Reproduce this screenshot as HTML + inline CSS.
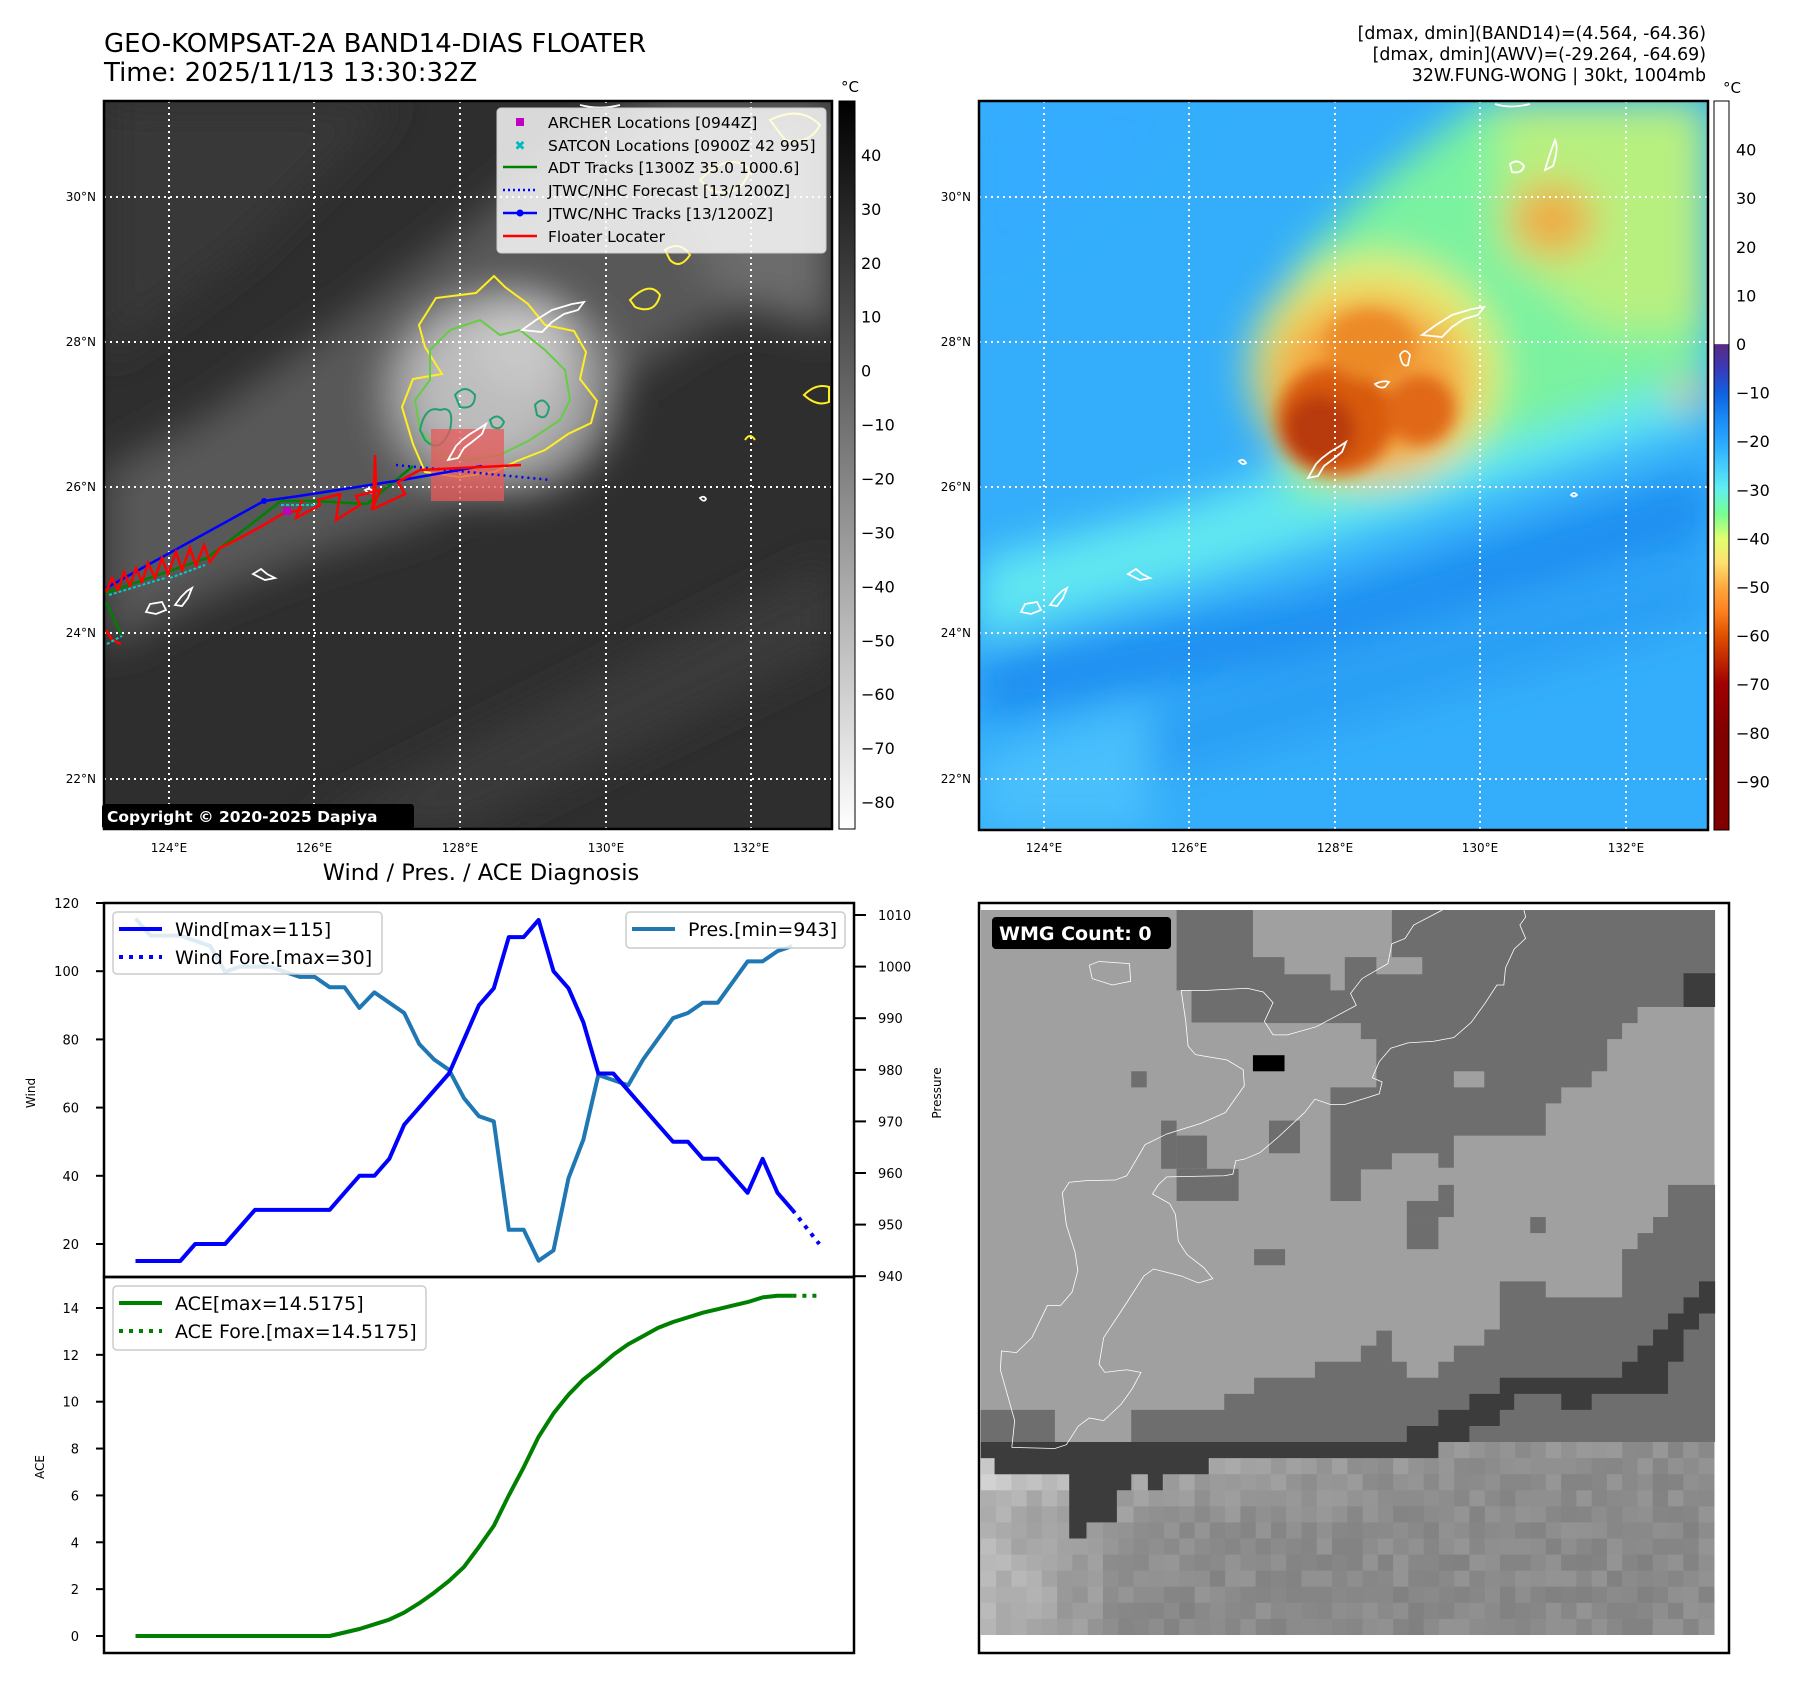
<!DOCTYPE html>
<html><head><meta charset="utf-8"><title>Dapiya floater</title>
<style>
html,body{margin:0;padding:0;background:#fff;}
svg{display:block;font-family:"DejaVu Sans","Liberation Sans",sans-serif;}
</style></head>
<body>
<svg id="fig" width="1797" height="1690" viewBox="0 0 1797 1690" xmlns="http://www.w3.org/2000/svg">
<defs>
  <filter id="blur20" x="-20%" y="-20%" width="140%" height="140%"><feGaussianBlur stdDeviation="20"/></filter>
  <filter id="blur8" x="-20%" y="-20%" width="140%" height="140%"><feGaussianBlur stdDeviation="8"/></filter>
  <clipPath id="clipL"><rect x="104" y="101" width="728" height="728"/></clipPath>
  <clipPath id="clipR"><rect x="979" y="101" width="729" height="729"/></clipPath>
  <linearGradient id="cbGray" x1="0" y1="0" x2="0" y2="1">
    <stop offset="0" stop-color="#000"/><stop offset="1" stop-color="#fff"/>
  </linearGradient>
  <linearGradient id="cbColor" x1="0" y1="0" x2="0" y2="1">
    <stop offset="0" stop-color="#fff"/><stop offset="0.333" stop-color="#fff"/>
    <stop offset="0.334" stop-color="#5a2a82"/><stop offset="0.367" stop-color="#3a3ab8"/>
    <stop offset="0.4" stop-color="#1060e0"/><stop offset="0.433" stop-color="#1888f4"/>
    <stop offset="0.467" stop-color="#28a8ff"/><stop offset="0.5" stop-color="#44ccff"/>
    <stop offset="0.533" stop-color="#60f0f0"/><stop offset="0.567" stop-color="#78ff90"/>
    <stop offset="0.6" stop-color="#e0ff70"/><stop offset="0.633" stop-color="#ffe070"/>
    <stop offset="0.667" stop-color="#ffa840"/><stop offset="0.7" stop-color="#ff8020"/>
    <stop offset="0.733" stop-color="#e05000"/><stop offset="0.767" stop-color="#c02800"/>
    <stop offset="0.8" stop-color="#a00000"/><stop offset="0.867" stop-color="#800000"/>
    <stop offset="1" stop-color="#800000"/>
  </linearGradient>
</defs>

<!-- Titles -->
<text x="104" y="52" font-size="26" fill="#000">GEO-KOMPSAT-2A BAND14-DIAS FLOATER</text>
<text x="104" y="81" font-size="26" fill="#000">Time: 2025/11/13 13:30:32Z</text>
<g font-size="17.4" text-anchor="end" fill="#000">
  <text x="1706" y="39">[dmax, dmin](BAND14)=(4.564, -64.36)</text>
  <text x="1706" y="60">[dmax, dmin](AWV)=(-29.264, -64.69)</text>
  <text x="1706" y="81">32W.FUNG-WONG | 30kt, 1004mb</text>
</g>

<!-- ===== Left IR map ===== -->
<g clip-path="url(#clipL)">
  <rect x="104" y="101" width="728" height="728" fill="#2e2e2e"/>
  <g filter="url(#blur20)">
    <polygon points="104,470 200,420 330,330 450,240 560,150 640,101 832,101 832,260 700,330 560,420 430,520 300,560 200,600 104,650" fill="#585858"/>
    <polygon points="104,101 400,101 250,250 104,360" fill="#383838"/>
    <polygon points="640,101 832,101 832,330 720,300" fill="#6c6c6c"/>
    <polygon points="300,829 832,560 832,650 460,829" fill="#3a3a3a"/>
    <ellipse cx="500" cy="395" rx="115" ry="100" fill="#9a9a9a"/>
    <ellipse cx="490" cy="385" rx="80" ry="75" fill="#bcbcbc"/>
    <ellipse cx="520" cy="345" rx="50" ry="45" fill="#c8c8c8"/>
  </g>
  <!-- grid -->
  <g stroke="#fff" stroke-width="2" stroke-dasharray="2,4">
    <line x1="169" y1="101" x2="169" y2="829"/><line x1="314" y1="101" x2="314" y2="829"/>
    <line x1="460" y1="101" x2="460" y2="829"/><line x1="606" y1="101" x2="606" y2="829"/>
    <line x1="751" y1="101" x2="751" y2="829"/>
    <line x1="104" y1="197" x2="832" y2="197"/><line x1="104" y1="342" x2="832" y2="342"/>
    <line x1="104" y1="487" x2="832" y2="487"/><line x1="104" y1="633" x2="832" y2="633"/>
    <line x1="104" y1="779" x2="832" y2="779"/>
  </g>
  <!-- contours -->
  <polygon points="419,325 436,298 476,293 494,276 505,287 528,304 545,325 574,331 586,352 580,379 597,401 591,423 568,434 545,450 517,461 494,472 459,477 425,472 413,444 402,407 413,379 442,374 425,347" fill="none" stroke="#ffee22" stroke-width="2"/>
  <polygon points="430,350 450,330 480,320 500,335 520,330 545,350 565,370 570,400 560,420 530,440 500,455 470,460 440,455 420,430 415,400 430,380" fill="none" stroke="#66cc44" stroke-width="2"/>
  <g fill="none" stroke="#22a070" stroke-width="2">
    <path d="M420,430 q5,-25 20,-20 q15,-5 10,20 q-10,25 -25,10 z"/>
    <path d="M455,395 q10,-12 20,0 q0,15 -15,12 z"/>
    <path d="M535,405 q8,-10 14,2 q-2,15 -12,8 z"/>
    <path d="M490,420 q8,-8 14,2 q-4,10 -12,4 z"/>
  </g>
  <g fill="none" stroke="#ffee22" stroke-width="2">
    <path d="M630,300 q20,-20 30,-5 q-5,20 -25,12 z"/>
    <path d="M665,250 q15,-10 25,5 q-10,15 -20,5 z"/>
    <path d="M700,180 q30,-30 50,-10 q-10,30 -40,20 z"/>
    <path d="M770,120 q30,-15 50,5 q-10,20 -35,15 z"/>
    <path d="M804,395 q12,-12 25,-8 l0,15 q-12,5 -25,-7 z"/>
    <path d="M745,440 q5,-8 10,0"/>
  </g>
  <!-- floater box -->
  <rect x="431" y="429" width="73" height="72" fill="rgb(232,90,90)" fill-opacity="0.75"/>
  <!-- coastlines -->
  <g fill="none" stroke="#fff" stroke-width="1.8">
    <path d="M448,460 l8,-14 l6,-6 l8,-6 l10,-6 l6,-4 l-4,10 l-10,8 l-8,6 l-6,10 z"/>
    <path d="M522,330 l14,-10 l16,-10 l20,-6 l12,-2 l-6,8 l-14,4 l-12,8 l-10,10 z"/>
    <path d="M253,574 l8,-5 l6,5 l8,4 l-10,2 z"/>
    <path d="M146,612 l4,-8 l12,-2 l4,8 l-10,4 z"/>
    <path d="M175,605 l6,-8 l6,-6 l5,-3 l-4,10 l-6,8 z"/>
    <path d="M700,498 q4,-3 6,1 q-2,4 -6,-1z"/>
    <path d="M365,490 q5,-3 8,2 q-3,3 -8,-2z"/>
    <path d="M580,105 q20,5 40,0"/>
  </g>
  <!-- tracks -->
  <polyline points="106,593 207,558 281,501 316,501 367,504 413,466" fill="none" stroke="#008000" stroke-width="2.5"/>
  <polyline points="106,602 121,634" fill="none" stroke="#008000" stroke-width="2.5"/>
  <polyline points="106,588 264,501 299,496 402,480 482,466" fill="none" stroke="#0000ff" stroke-width="2.5"/>
  <circle cx="264" cy="501" r="3" fill="#0000ff"/>
  <polyline points="396,465 551,480" fill="none" stroke="#0000ff" stroke-width="2.5" stroke-dasharray="2,4"/>
  <polyline points="106,592 112,578 118,590 124,572 130,586 136,568 142,582 148,563 155,578 162,558 168,574 176,552 182,570 190,548 196,566 204,545 210,562 220,548 240,538 262,526 282,514 300,510 302,500 296,518 320,505 318,500 340,494 336,520 360,505 356,496 380,490 372,510 376,482 375,455 373,509 405,494 398,482 420,470 521,465" fill="none" stroke="#ff0000" stroke-width="2.5"/>
  <polyline points="106,630 112,640 121,644" fill="none" stroke="#ff0000" stroke-width="2.5"/>
  <g stroke="#00cccc" stroke-width="2" stroke-dasharray="3,2">
    <line x1="109" y1="595" x2="165" y2="578"/>
    <line x1="170" y1="578" x2="205" y2="565"/>
    <line x1="281" y1="505" x2="316" y2="505"/>
    <line x1="107" y1="644" x2="122" y2="636"/>
  </g>
  <rect x="283" y="507" width="8" height="8" fill="#c000c0"/>
  <!-- legend -->
  <g>
    <rect x="497" y="108" width="329" height="145" rx="4" fill="#fff" fill-opacity="0.82" stroke="#ccc"/>
    <rect x="516" y="118" width="8" height="8" fill="#c000c0"/>
    <text x="520" y="150" font-size="13" font-weight="bold" fill="#00bbbb" text-anchor="middle">✖</text>
    <line x1="503" y1="167" x2="537" y2="167" stroke="#008000" stroke-width="2.5"/>
    <line x1="503" y1="190" x2="537" y2="190" stroke="#0000ff" stroke-width="2.5" stroke-dasharray="2,3"/>
    <line x1="503" y1="213" x2="537" y2="213" stroke="#0000ff" stroke-width="2.5"/><circle cx="520" cy="213" r="3.5" fill="#0000ff"/>
    <line x1="503" y1="236" x2="537" y2="236" stroke="#ff0000" stroke-width="2.5"/>
    <g font-size="15.5" fill="#000">
      <text x="548" y="128">ARCHER Locations [0944Z]</text>
      <text x="548" y="151">SATCON Locations [0900Z 42 995]</text>
      <text x="548" y="173">ADT Tracks [1300Z 35.0 1000.6]</text>
      <text x="548" y="196">JTWC/NHC Forecast [13/1200Z]</text>
      <text x="548" y="219">JTWC/NHC Tracks [13/1200Z]</text>
      <text x="548" y="242">Floater Locater</text>
    </g>
  </g>
</g>
<rect x="104" y="101" width="728" height="728" fill="none" stroke="#000" stroke-width="2.5"/>
<g>
  <rect x="102" y="804" width="312" height="25" rx="3" fill="#000"/>
  <text x="107" y="822" font-size="15.5" font-weight="bold" fill="#fff">Copyright © 2020-2025 Dapiya</text>
</g>
<g font-size="12" fill="#000" text-anchor="end">
  <text x="96" y="201">30°N</text><text x="96" y="346">28°N</text><text x="96" y="491">26°N</text><text x="96" y="637">24°N</text><text x="96" y="783">22°N</text>
</g>
<g font-size="12" fill="#000" text-anchor="middle">
  <text x="169" y="852">124°E</text><text x="314" y="852">126°E</text><text x="460" y="852">128°E</text><text x="606" y="852">130°E</text><text x="751" y="852">132°E</text>
</g>
<!-- left colorbar -->
<rect x="839" y="101" width="16" height="728" fill="url(#cbGray)" stroke="#000" stroke-width="1"/>
<text x="850" y="92" font-size="15" text-anchor="middle">°C</text>
<g id="cbL" font-size="16" fill="#000"></g>

<!-- ===== Right AWV map ===== -->
<g clip-path="url(#clipR)">
  <rect x="979" y="101" width="729" height="729" fill="#34aefa"/>
  <g filter="url(#blur20)">
    <polygon points="979,660 1300,600 1708,470 1708,540 1300,660 979,720" fill="#1f8ef0"/>
    <polygon points="979,760 1708,560 1708,620 979,830" fill="#2c9ff4"/>
    <polygon points="979,760 1150,700 1150,830 979,830" fill="#48bffc"/>
    <polygon points="979,560 1200,500 1400,420 1708,280 1708,420 1400,520 1200,580 979,640" fill="#60e6f2"/>
    <polygon points="979,101 1200,101 1100,200 979,280" fill="#36acff"/>
    <polygon points="1290,505 1400,480 1708,370 1708,101 1480,101 1380,180 1300,260 1270,340" fill="#7af2a0"/>
    <polygon points="1500,101 1708,101 1708,330 1600,330 1500,250" fill="#b8f080"/>
    <ellipse cx="1375" cy="370" rx="125" ry="115" fill="#e8ec70"/>
    <ellipse cx="1370" cy="385" rx="100" ry="90" fill="#f4a440"/>
    <ellipse cx="1552" cy="220" rx="42" ry="36" fill="#f0a840"/>
    <ellipse cx="1690" cy="395" rx="20" ry="12" fill="#f0a840"/>
  </g>
  <g filter="url(#blur8)">
    <ellipse cx="1335" cy="420" rx="58" ry="55" fill="#d85a10"/>
    <ellipse cx="1320" cy="430" rx="35" ry="35" fill="#b83a08"/>
    <ellipse cx="1420" cy="410" rx="35" ry="35" fill="#e06818"/>
    <ellipse cx="1370" cy="345" rx="45" ry="35" fill="#ec8a28"/>
  </g>
  <g stroke="#fff" stroke-width="2" stroke-dasharray="2,4">
    <line x1="1044" y1="101" x2="1044" y2="830"/><line x1="1189" y1="101" x2="1189" y2="830"/>
    <line x1="1335" y1="101" x2="1335" y2="830"/><line x1="1480" y1="101" x2="1480" y2="830"/>
    <line x1="1626" y1="101" x2="1626" y2="830"/>
    <line x1="979" y1="197" x2="1708" y2="197"/><line x1="979" y1="342" x2="1708" y2="342"/>
    <line x1="979" y1="487" x2="1708" y2="487"/><line x1="979" y1="633" x2="1708" y2="633"/>
    <line x1="979" y1="779" x2="1708" y2="779"/>
  </g>
  <g fill="none" stroke="#fff" stroke-width="1.8">
    <path d="M1308,478 l8,-14 l6,-6 l8,-6 l10,-6 l6,-4 l-4,10 l-10,8 l-8,6 l-6,10 z"/>
    <path d="M1422,335 l14,-10 l16,-10 l20,-6 l12,-2 l-6,8 l-14,4 l-12,8 l-10,10 z"/>
    <path d="M1128,574 l8,-5 l6,5 l8,4 l-10,2 z"/>
    <path d="M1021,612 l4,-8 l12,-2 l4,8 l-10,4 z"/>
    <path d="M1050,605 l6,-8 l6,-6 l5,-3 l-4,10 l-6,8 z"/>
    <path d="M1400,355 q5,-8 10,0 l-2,10 q-6,3 -8,-10z"/>
    <path d="M1375,384 q8,-4 14,-2 l-4,5 q-6,2 -10,-3z"/>
    <path d="M1510,164 q8,-6 14,2 q-2,8 -12,6z"/>
    <path d="M1545,170 q4,-14 10,-30 q4,8 -2,26z"/>
    <path d="M1495,104 q15,5 35,0"/>
    <path d="M1571,495 q3,-4 6,0 q-3,3 -6,0z"/>
    <path d="M1239,461 q4,-3 7,2 q-3,3 -7,-2z"/>
  </g>
</g>
<rect x="979" y="101" width="729" height="729" fill="none" stroke="#000" stroke-width="2.5"/>
<g font-size="12" fill="#000" text-anchor="end">
  <text x="971" y="201">30°N</text><text x="971" y="346">28°N</text><text x="971" y="491">26°N</text><text x="971" y="637">24°N</text><text x="971" y="783">22°N</text>
</g>
<g font-size="12" fill="#000" text-anchor="middle">
  <text x="1044" y="852">124°E</text><text x="1189" y="852">126°E</text><text x="1335" y="852">128°E</text><text x="1480" y="852">130°E</text><text x="1626" y="852">132°E</text>
</g>
<rect x="1714" y="101" width="15" height="729" fill="url(#cbColor)" stroke="#000" stroke-width="1"/>
<text x="1732" y="93" font-size="15" text-anchor="middle">°C</text>
<g id="cbR" font-size="16" fill="#000"></g>

<!-- ===== Bottom-left chart ===== -->
<text x="481" y="880" font-size="22.5" text-anchor="middle">Wind / Pres. / ACE Diagnosis</text>
<g id="chart"></g>

<!-- ===== Bottom-right WMG panel ===== -->
<g>
  <g transform="translate(897,850) scale(0.5741,0.5358)">
    <rect x="146" y="112" width="1278" height="1353" fill="#a0a0a0"/>
    <g id="wmgTex"></g>
    <polygon fill="#6e6e6e" points="487,112 620,112 620,200 675,200 675,232 755,232 755,262 780,262 780,200 862,200 862,112 1425,112 1425,235 1370,235 1370,293 1290,293 1290,323 1263,323 1263,353 1237,353 1237,413 1210,413 1210,443 1157,443 1157,473 1130,473 1130,533 970,533 970,593 943,593 943,566 862,566 862,596 808,596 808,655 755,655 755,443 835,443 835,353 808,353 808,323 640,323 640,322 513,322 513,262 487,262"/>
    <rect x="835" y="200" width="80" height="32" fill="#a0a0a0"/>
    <rect x="970" y="413" width="53" height="30" fill="#a0a0a0"/>
    <polygon fill="#6e6e6e" points="1425,625 1343,625 1343,685 1317,685 1317,715 1290,715 1290,745 1263,745 1263,835 1130,835 1130,805 1050,805 1050,895 1023,895 1023,925 970,925 970,955 943,955 943,985 888,985 888,955 862,955 862,897 835,897 835,925 808,925 808,955 728,955 728,985 622,985 622,1015 570,1015 570,1045 408,1045 408,1105 275,1105 275,1045 146,1045 146,1105 1425,1105"/>
    <polygon fill="#3c3c3c" points="1425,805 1397,805 1397,835 1370,835 1370,865 1343,865 1343,895 1317,895 1317,925 1290,925 1290,955 1263,955 1263,985 1050,985 1050,1015 997,1015 997,1045 943,1045 943,1075 888,1075 888,1105 146,1105 146,1135 170,1135 170,1165 300,1165 300,1285 330,1285 330,1255 383,1255 383,1195 408,1195 408,1165 437,1165 437,1195 463,1195 463,1165 543,1165 543,1135 943,1135 943,1105 997,1105 997,1075 1050,1075 1050,1045 1075,1045 1075,1015 1157,1015 1157,1045 1210,1045 1210,1015 1343,1015 1343,955 1370,955 1370,895 1397,895 1397,865 1425,865"/>
    <rect x="1370" y="230" width="55" height="63" fill="#3c3c3c"/>
    <g fill="#6e6e6e">
      <rect x="408" y="413" width="27" height="30"/><rect x="460" y="505" width="27" height="90"/>
      <rect x="487" y="533" width="53" height="62"/><rect x="487" y="595" width="108" height="60"/>
      <rect x="648" y="505" width="54" height="61"/><rect x="622" y="745" width="54" height="30"/>
      <rect x="1103" y="685" width="27" height="30"/><rect x="888" y="655" width="82" height="30"/>
      <rect x="888" y="685" width="55" height="60"/><rect x="943" y="625" width="27" height="30"/>
    </g>
    <rect x="620" y="383" width="55" height="30" fill="#000"/>
    <g fill="none" stroke="#fff" stroke-width="1.4" vector-effect="non-scaling-stroke">
      <polyline points="200,1115 205,1065 180,970 182,935 208,938 235,910 262,850 285,850 305,825 315,785 310,750 295,700 288,640 300,620 330,617 380,616 400,608 408,594 432,550 470,530 530,510 572,490 605,440 603,410 575,392 520,382 507,366 503,320 495,262 540,262 610,258 638,265 655,285 640,320 655,345 680,345 730,330 800,290 790,268 810,240 855,212 862,175 885,165 900,140 950,112"/>
      <polyline points="1092,112 1095,125 1085,140 1095,165 1075,185 1060,220 1057,252 1045,252 1025,285 1000,322 970,350 935,357 890,360 860,370 840,395 828,425 845,433 840,455 820,462 780,475 755,475 728,465 710,490 665,535 632,565 605,577 590,580 585,605 570,608 470,610 455,625 445,642 475,660 485,680 490,730 505,755 535,780 550,800 525,808 495,795 447,782 430,795 400,845 360,910 352,960 362,975 400,970 425,975 410,1005 390,1035 360,1065 335,1060 316,1075 295,1110 275,1117 200,1115"/>
      <polygon points="335,215 352,208 405,212 407,245 375,252 340,240"/>
    </g>
  </g>
  <rect x="979" y="903" width="750" height="750" fill="none" stroke="#000" stroke-width="2.5"/>
  <rect x="992" y="917" width="179" height="32" rx="4" fill="#000"/>
  <text x="999" y="940" font-size="19" font-weight="bold" fill="#fff">WMG Count: 0</text>
</g>
</svg>

<script>
// ---- Chart data ----
const obsIndex = [0,1,2,3,4,5,6,7,8,9,10,11,12,13,14,15,16,17,18,19,20,21,22,23,24,25,26,27,28,29,30,31,32,33,34,35,36,37,38,39,40,41,42,43,44];
const windValues = [15,15,15,15,20,20,20,25,30,30,30,30,30,30,35,40,40,45,55,60,65,70,80,90,95,110,110,115,100,95,85,70,70,65,60,55,50,50,45,45,40,35,45,35,30];
const presValues = [1009.3,1006,1006,1006,1005,1004,999,1000,1000,1000,999,998,998,996,996,992,995,993,991,985,982,980,974.5,971,970,949,949,943,945,959,966.5,979,978,977,982,986,990,991,993,993,997,1001,1001,1003,1004];
const aceValues = [0,0,0,0,0,0,0,0,0,0,0,0,0,0,0.15,0.3,0.5,0.7,1.0,1.4,1.85,2.35,2.95,3.8,4.7,6.0,7.2,8.5,9.5,10.3,10.95,11.45,12.0,12.45,12.8,13.15,13.4,13.6,13.8,13.95,14.1,14.25,14.45,14.52,14.52];
const foreIndex = [44,45.8];
const windForeValues = [30,20];
const aceForeValues = [14.52,14.52];
const windTicks = [20,40,60,80,100,120];
const presTicks = [940,950,960,970,980,990,1000,1010];
const aceTicks = [0,2,4,6,8,10,12,14];
const irCbTicks = [40,30,20,10,0,-10,-20,-30,-40,-50,-60,-70,-80];
const awvCbTicks = [40,30,20,10,0,-10,-20,-30,-40,-50,-60,-70,-80,-90];

const NS = "http://www.w3.org/2000/svg";
function mk(tag, attrs, parent){
  const e = document.createElementNS(NS, tag);
  for (const k in attrs) e.setAttribute(k, attrs[k]);
  parent.appendChild(e);
  return e;
}
function fmt(v){ return v < 0 ? "\u2212" + Math.abs(v) : String(v); }

// layout
const TOP = 903, MID = 1277, BOT = 1653;
// axes functions
const xPos = i => 135.5 + i * 14.93;
const yWind = v => 903 + (120 - v) * 3.41;
const yPres = p => 915 + (1010 - p) * 5.16;
const yAce = a => 1636 - a * 23.43;
const yIrCb = v => 101 + (50 - v) * 5.393;
const yAwvCb = v => 101 + (50 - v) * 4.86;

// colorbar labels
const cbL = document.getElementById("cbL");
irCbTicks.forEach(v => {
  const t = mk("text", {x: 861, y: yIrCb(v) + 6}, cbL);
  t.textContent = fmt(v);
  
  
});
const cbR = document.getElementById("cbR");
awvCbTicks.forEach(v => {
  const t = mk("text", {x: 1736, y: yAwvCb(v) + 6}, cbR);
  t.textContent = fmt(v);
  
  
});

// chart
const ch = document.getElementById("chart");
function pts(xs, ys, fy){ return xs.map((x,i)=> xPos(x).toFixed(1)+","+fy(ys[i]).toFixed(1)).join(" "); }

const clipDefs = document.querySelector("defs");
const cp = mk("clipPath", {id: "clipTop"}, clipDefs);
mk("rect", {x:104, y:TOP, width:750, height:MID-TOP}, cp);
const cp2 = mk("clipPath", {id: "clipBot"}, clipDefs);
mk("rect", {x:104, y:MID, width:750, height:BOT-MID}, cp2);

const topG = mk("g", {"clip-path": "url(#clipTop)"}, ch);
const presLine = mk("polyline", {points: pts(obsIndex, presValues, yPres), fill:"none", stroke:"#1f77b4", "stroke-width":4, "stroke-linejoin":"round"}, topG);


const windLine = mk("polyline", {points: pts(obsIndex, windValues, yWind), fill:"none", stroke:"#0000ff", "stroke-width":4, "stroke-linejoin":"round"}, topG);


const windFore = mk("polyline", {points: pts(foreIndex, windForeValues, yWind), fill:"none", stroke:"#0000ff", "stroke-width":4, "stroke-dasharray":"4,6"}, topG);



const botG = mk("g", {"clip-path": "url(#clipBot)"}, ch);
const aceLine = mk("polyline", {points: pts(obsIndex, aceValues, yAce), fill:"none", stroke:"#008000", "stroke-width":4, "stroke-linejoin":"round"}, botG);


const aceFore = mk("polyline", {points: pts(foreIndex, aceForeValues, yAce), fill:"none", stroke:"#008000", "stroke-width":4, "stroke-dasharray":"4,6"}, botG);



// frames
const f1 = mk("rect", {x:104, y:TOP, width:750, height:MID-TOP, fill:"none", stroke:"#000", "stroke-width":2.5}, ch);


const f2 = mk("rect", {x:104, y:MID, width:750, height:BOT-MID, fill:"none", stroke:"#000", "stroke-width":2.5}, ch);



// ticks
windTicks.forEach(v => {
  const y = yWind(v);
  mk("line", {x1:96, x2:104, y1:y, y2:y, stroke:"#000", "stroke-width":2}, ch);
  const t = mk("text", {x:79, y:y+5, "font-size":13, "text-anchor":"end"}, ch);
  t.textContent = v;
  
  
});
presTicks.forEach(v => {
  const y = yPres(v);
  mk("line", {x1:854, x2:866, y1:y, y2:y, stroke:"#000", "stroke-width":2}, ch);
  const t = mk("text", {x:878, y:y+5, "font-size":13}, ch);
  t.textContent = v;
  
  
});
aceTicks.forEach(v => {
  const y = yAce(v);
  mk("line", {x1:96, x2:104, y1:y, y2:y, stroke:"#000", "stroke-width":2}, ch);
  const t = mk("text", {x:79, y:y+5, "font-size":13, "text-anchor":"end"}, ch);
  t.textContent = v;
  
  
});

// axis titles
const wl = mk("text", {x:0, y:0, "font-size":12, "text-anchor":"middle", transform:"translate(35,1093) rotate(-90)"}, ch);
wl.textContent = "Wind";


const pl = mk("text", {x:0, y:0, "font-size":12, "text-anchor":"middle", transform:"translate(941,1093) rotate(-90)"}, ch);
pl.textContent = "Pressure";


const al = mk("text", {x:0, y:0, "font-size":12, "text-anchor":"middle", transform:"translate(44,1467) rotate(-90)"}, ch);
al.textContent = "ACE";



// legends
function legend(name, x, y, w, h, entries){
  const g = mk("g", {}, ch);
  
  
  mk("rect", {x:x, y:y, width:w, height:h, rx:4, fill:"#fff", "fill-opacity":0.85, stroke:"#ccc", "stroke-width":1.5}, g);
  entries.forEach((en, k) => {
    const ly = y + 17 + k * 28;
    const ln = mk("line", {x1:x+6, x2:x+49, y1:ly, y2:ly, stroke:en.c, "stroke-width":4}, g);
    if (en.dash) ln.setAttribute("stroke-dasharray", "4,6");
    const t = mk("text", {x:x+62, y:ly+7, "font-size":19}, g);
    t.textContent = en.t;
  });
}
legend("wind-legend", 113, 912, 269, 62, [{c:"#0000ff", t:"Wind[max=115]"}, {c:"#0000ff", t:"Wind Fore.[max=30]", dash:true}]);
legend("pressure-legend", 626, 912, 219, 36, [{c:"#1f77b4", t:"Pres.[min=943]"}]);
legend("ace-legend", 113, 1286, 313, 64, [{c:"#008000", t:"ACE[max=14.5175]"}, {c:"#008000", t:"ACE Fore.[max=14.5175]", dash:true}]);

// WMG texture (image pixels below the dark band)
const tex = document.getElementById("wmgTex");
const texClipPts = "146,1135 170,1135 170,1165 300,1165 300,1285 330,1285 330,1255 383,1255 383,1195 408,1195 408,1165 437,1165 437,1195 463,1195 463,1165 543,1165 543,1135 943,1135 943,1105 997,1105 997,1075 1050,1075 1050,1045 1075,1045 1075,1015 1157,1015 1157,1045 1210,1045 1210,1015 1343,1015 1343,955 1370,955 1370,895 1397,895 1397,865 1425,865 1425,1465 146,1465";
const cp3 = mk("clipPath", {id: "clipTex"}, clipDefs);
mk("polygon", {points: texClipPts}, cp3);
const texG = mk("g", {"clip-path": "url(#clipTex)"}, tex);
for (let r = 0; r < 22; r++) {
  const y = 805 + r * 30;
  for (let c = 0; c < 48; c++) {
    const x = 146 + c * 26.6;
    const h = Math.abs(Math.sin(r * 12.9898 + c * 78.233) * 43758.5453) % 1;
    const bandBottom = 1165 - (c / 48) * 300;
    const d = Math.max(0, (y - bandBottom) / 30);
    let v = 138 + 68 * Math.exp(-d / 2.5) + 40 * Math.max(0, 1 - c / 10) * Math.min(1, Math.max(0, (y - 1200) / 120)) + (h - 0.5) * 20;
    v = Math.round(Math.max(115, Math.min(210, v)));
    mk("rect", {x:x.toFixed(1), y:y, width:27.6, height:31, fill:"rgb("+v+","+v+","+v+")"}, texG);
  }
}
</script>
</body></html>
